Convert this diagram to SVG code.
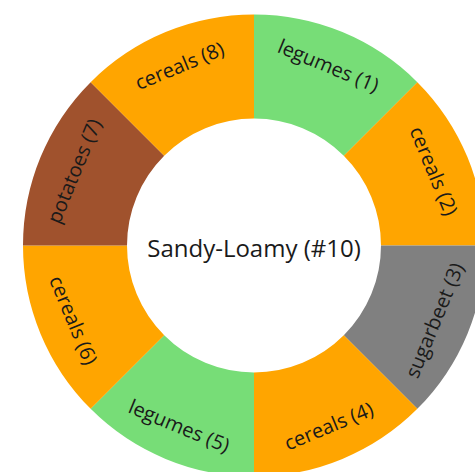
<svg xmlns="http://www.w3.org/2000/svg" width="475" height="472" viewBox="0 0 475 472">
<style>
.lbl{font-family:"Open Sans","Noto Sans","DejaVu Sans",sans-serif;font-size:20px;fill:#1a1a1a;text-anchor:middle;dominant-baseline:central}
.ctr{font-family:"Open Sans","Noto Sans","DejaVu Sans",sans-serif;font-size:24px;fill:#1a1a1a;text-anchor:middle}
.orange{fill:#FFA500}
.green{fill:#77DD77}
.brown{fill:#A0522D}
.gray{fill:#808080}
</style>
<rect width="475" height="472" fill="#ffffff"/>
<g id="seg1">
<path class="green" d="M254,14.5 A231,231 0 0 1 417.34,82.16 L343.8,155.7 A127,127 0 0 0 254,118.5 Z"/>
<text class="lbl" transform="translate(328.62,65.34) rotate(22.5)">legumes (1)</text>
</g>
<g id="seg2">
<path class="orange" d="M417.34,82.16 A231,231 0 0 1 485,245.5 L381,245.5 A127,127 0 0 0 343.8,155.7 Z"/>
<text class="lbl" transform="translate(434.16,170.88) rotate(67.5)">cereals (2)</text>
</g>
<g id="seg3">
<path class="gray" d="M485,245.5 A231,231 0 0 1 417.34,408.84 L343.8,335.3 A127,127 0 0 0 381,245.5 Z"/>
<text class="lbl" transform="translate(434.16,320.12) rotate(-67.5)">sugarbeet (3)</text>
</g>
<g id="seg4">
<path class="orange" d="M417.34,408.84 A231,231 0 0 1 254,476.5 L254,372.5 A127,127 0 0 0 343.8,335.3 Z"/>
<text class="lbl" transform="translate(328.62,425.66) rotate(-22.5)">cereals (4)</text>
</g>
<g id="seg5">
<path class="green" d="M254,476.5 A231,231 0 0 1 90.66,408.84 L164.2,335.3 A127,127 0 0 0 254,372.5 Z"/>
<text class="lbl" transform="translate(179.38,425.66) rotate(22.5)">legumes (5)</text>
</g>
<g id="seg6">
<path class="orange" d="M90.66,408.84 A231,231 0 0 1 23,245.5 L127,245.5 A127,127 0 0 0 164.2,335.3 Z"/>
<text class="lbl" transform="translate(73.84,320.12) rotate(67.5)">cereals (6)</text>
</g>
<g id="seg7">
<path class="brown" d="M23,245.5 A231,231 0 0 1 90.66,82.16 L164.2,155.7 A127,127 0 0 0 127,245.5 Z"/>
<text class="lbl" transform="translate(73.84,170.88) rotate(-67.5)">potatoes (7)</text>
</g>
<g id="seg8">
<path class="orange" d="M90.66,82.16 A231,231 0 0 1 254,14.5 L254,118.5 A127,127 0 0 0 164.2,155.7 Z"/>
<text class="lbl" transform="translate(179.38,65.34) rotate(-22.5)">cereals (8)</text>
</g>
<g id="connectors"></g>
<g id="center">
<text class="ctr" x="254" y="257">Sandy-Loamy (#10)</text>
</g>
</svg>
